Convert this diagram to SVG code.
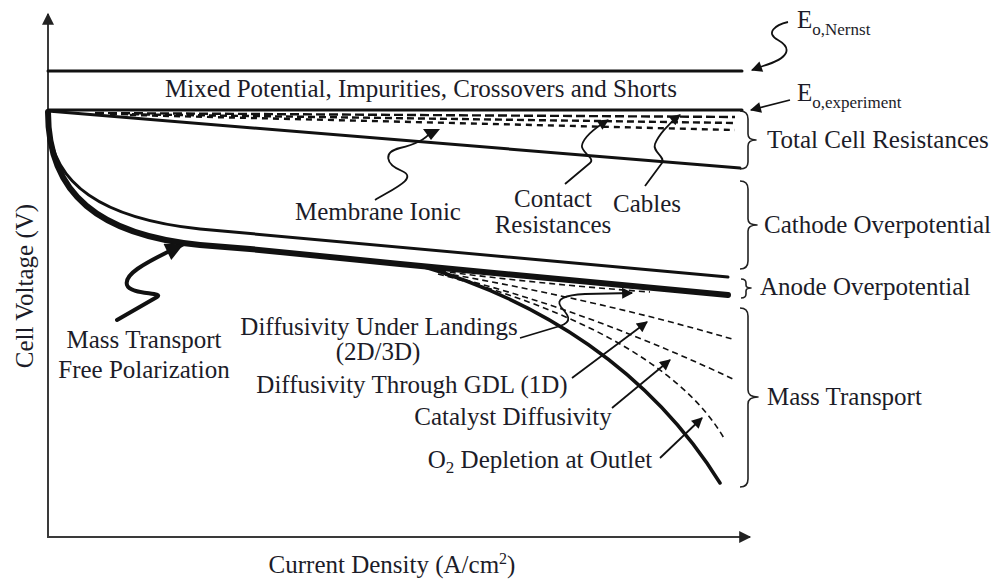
<svg xmlns="http://www.w3.org/2000/svg" width="1003" height="582" viewBox="0 0 1003 582">
<defs>
<style>
text{font-family:"Liberation Serif","Times New Roman",serif;font-size:25px;fill:#1c1c28}
.ln{fill:none;stroke:#111;stroke-linecap:round;stroke-linejoin:round}
.ax{fill:none;stroke:#3a3a3a;stroke-width:2}
.pt{fill:none;stroke:#111;stroke-width:1.8}
.ds{fill:none;stroke:#111;stroke-width:1.6;stroke-dasharray:6 4}
.dt{fill:none;stroke:#111;stroke-width:2.4}
.br{fill:none;stroke:#222;stroke-width:1.6;stroke-linejoin:round}
</style>
<marker id="ah" viewBox="0 0 10 10" refX="9" refY="5" markerWidth="15" markerHeight="11" markerUnits="userSpaceOnUse" orient="auto"><path d="M0,0 L10,5 L0,10 z" fill="#111"/></marker>
<marker id="ahb" viewBox="0 0 10 10" refX="9" refY="5" markerWidth="24" markerHeight="18" markerUnits="userSpaceOnUse" orient="auto"><path d="M0,0 L10,5 L0,10 z" fill="#111"/></marker>
<marker id="axh" viewBox="0 0 10 10" refX="9" refY="5" markerWidth="14" markerHeight="12" markerUnits="userSpaceOnUse" orient="auto"><path d="M0,0 L10,5 L0,10 z" fill="#222"/></marker>
</defs>

<g id="axes">
<path class="ax" d="M48,537 V14" marker-end="url(#axh)"/>
<path class="ax" d="M47,537 H750" marker-end="url(#axh)"/>
<text id="ylabel" transform="translate(33,286) rotate(-90)" text-anchor="middle">Cell Voltage (V)</text>
<text id="xlabel" x="392" y="573" text-anchor="middle">Current Density (A/cm<tspan font-size="16" dy="-9">2</tspan><tspan dy="9">)</tspan></text>
</g>

<g id="curves">
<path id="nernst-line" class="ln" stroke-width="3" d="M48,71 H742"/>
<path id="exp-line" class="ln" stroke-width="3" d="M48,110 H742"/>
<path id="membrane-line" class="ln" stroke-width="3" d="M48,111 L740,168"/>
<path class="dt" stroke-dasharray="9 4" d="M95,113 L735,117"/>
<path class="dt" stroke-dasharray="7 4" d="M110,114 L735,123"/>
<path class="dt" stroke-dasharray="6 5" d="M130,115 L735,130"/>
<path id="cathode-curve" class="ln" stroke-width="3" d="M49,125 C52,180 95,218 200,229 L728,277"/>
<path id="anode-curve" class="ln" stroke-width="6" d="M48,112 C48,195 100,235 200,245 L250,249 L400,264 L728,295"/>
<path id="o2-curve" class="ln" stroke-width="3.5" d="M418,265 C540,300 650,370 720,483"/>
<path class="ds" d="M440,271 Q540,284 650,292"/>
<path class="ds" d="M443,273 C540,290 640,312 732,339"/>
<path class="ds" d="M445,275 C550,300 650,340 733,379"/>
<path class="ds" d="M438,274 C560,305 680,360 725,440"/>
</g>

<g id="braces">
<path class="br" d="M740,111 Q748,111 748,119 L748,134 Q748,140 756,140 Q748,140 748,146 L748,162 Q748,169 740,169"/>
<path class="br" d="M740,181 Q748,181 748,189 L748,219 Q748,225 757,225 Q748,225 748,231 L748,261 Q748,269 740,269"/>
<path class="br" d="M741,279 Q746,279 746,283 L746,285 Q746,288 751,288 Q746,288 746,291 L746,294 Q746,298 741,298"/>
<path class="br" d="M740,308 Q748,308 748,316 L748,390 Q748,397 758,397 Q748,397 748,404 L748,479 Q748,487 740,487"/>
</g>

<g id="connectors">
<path class="pt" d="M788,22 C775,25 765,33 778,40 C792,48 790,58 763,66 L752,70" marker-end="url(#ah)"/>
<path class="pt" d="M790,100 L751,110" marker-end="url(#ah)"/>
<path class="pt" d="M375,200 C395,188 418,178 402,171 C385,164 383,152 400,148 C413,145 425,140 431,132"/>
<polygon points="423,129 440,129 431,140" fill="#111"/>
<path class="pt" d="M565,184 L590,163 C596,158 580,152 582,145 C584,137 595,128 608,120" marker-end="url(#ah)"/>
<path class="pt" d="M645,186 L662,163 C666,157 652,152 655,144 C658,136 668,124 680,115" marker-end="url(#ah)"/>
<path class="ln" stroke-width="4" d="M117,320 L157,297 C165,292 130,295 127,285 C124,275 140,265 182,245" marker-end="url(#ahb)"/>
<path class="pt" d="M520,338 L560,326 C575,321 566,313 561,307 C555,299 565,295 585,294 L632,293" marker-end="url(#ah)"/>
<path class="pt" d="M572,378 L647,322" marker-end="url(#ah)"/>
<path class="pt" d="M612,408 L670,360" marker-end="url(#ah)"/>
<path class="pt" d="M660,458 L702,418" marker-end="url(#ah)"/>
</g>

<g id="labels">
<text id="t-mixed" x="421" y="97" text-anchor="middle">Mixed Potential, Impurities, Crossovers and Shorts</text>
<text id="t-nernst" x="797" y="28" font-size="24">E<tspan font-size="17" dy="7">o,Nernst</tspan></text>
<text id="t-exp" x="797" y="101" font-size="24">E<tspan font-size="17" dy="7">o,experiment</tspan></text>
<text id="t-total" x="767" y="148">Total Cell Resistances</text>
<text id="t-membrane" x="378" y="220" text-anchor="middle">Membrane Ionic</text>
<text id="t-contact" text-anchor="middle"><tspan x="553" y="207">Contact</tspan><tspan x="553" y="233">Resistances</tspan></text>
<text id="t-cables" x="647" y="212" text-anchor="middle">Cables</text>
<text id="t-cathode" x="764" y="233">Cathode Overpotential</text>
<text id="t-anode" x="760" y="295">Anode Overpotential</text>
<text id="t-mass" x="767" y="405">Mass Transport</text>
<text id="t-mtfree" text-anchor="middle"><tspan x="144" y="348">Mass Transport</tspan><tspan x="144" y="378">Free Polarization</tspan></text>
<text id="t-landings" text-anchor="middle"><tspan x="379" y="335">Diffusivity Under Landings</tspan><tspan x="378" y="360">(2D/3D)</tspan></text>
<text id="t-gdl" x="412" y="393" text-anchor="middle">Diffusivity Through GDL (1D)</text>
<text id="t-catalyst" x="513" y="425" text-anchor="middle">Catalyst Diffusivity</text>
<text id="t-o2" x="540" y="468" text-anchor="middle">O<tspan font-size="17" dy="5">2</tspan><tspan dy="-5"> Depletion at Outlet</tspan></text>
</g>
</svg>
